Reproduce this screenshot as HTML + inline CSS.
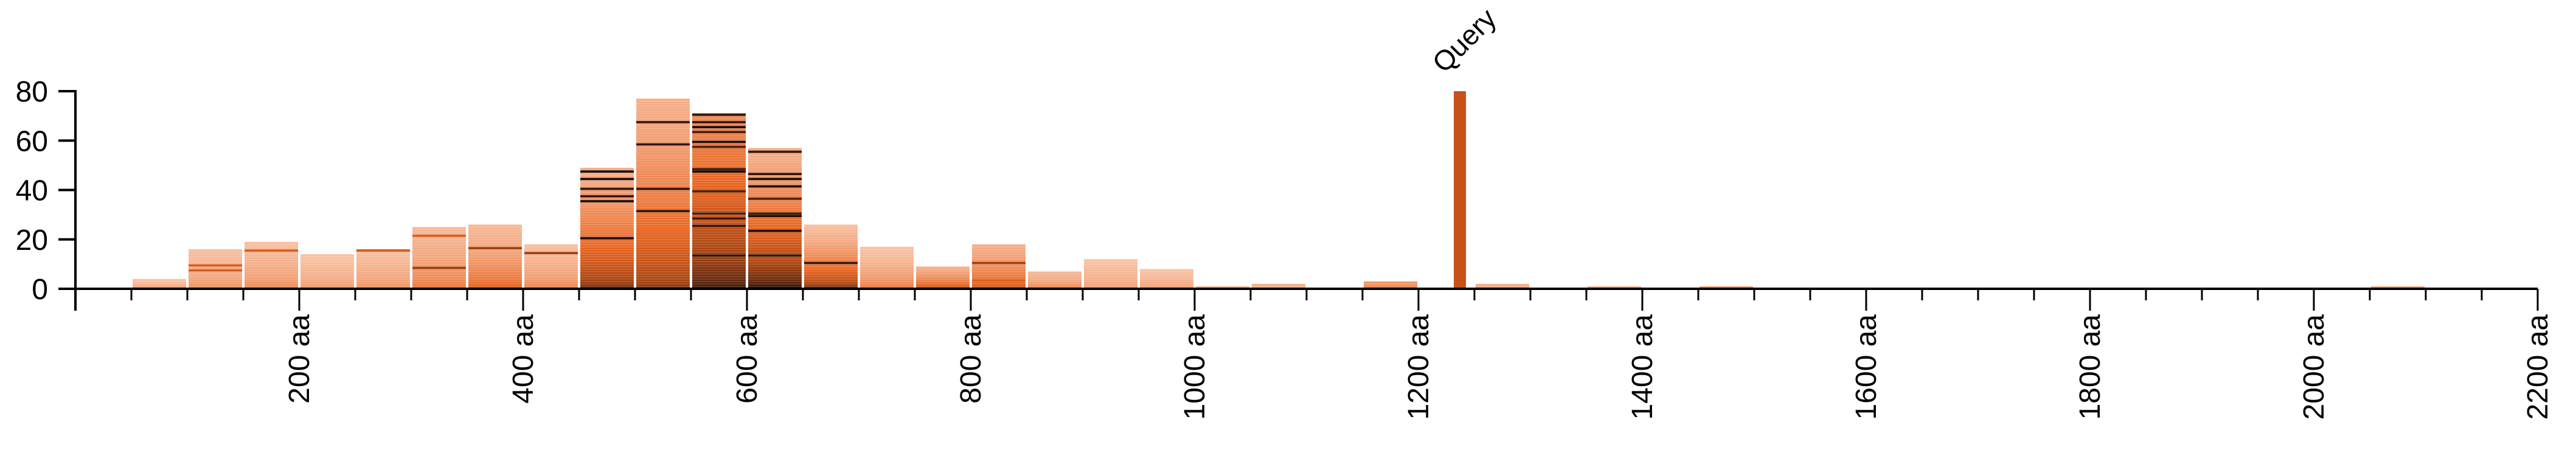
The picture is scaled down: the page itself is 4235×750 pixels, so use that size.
<!DOCTYPE html>
<html><head><meta charset="utf-8">
<style>
html,body{margin:0;padding:0;background:#fff;}
svg{display:block;}
text{font-family:"Liberation Sans",Arial,sans-serif;fill:#000;}
</style></head>
<body>
<svg id="chart" width="4235" height="750" viewBox="0 0 4235 750" xmlns="http://www.w3.org/2000/svg">
<g id="bars"></g>
<g id="query"></g>
<g id="xaxis"></g>
<g id="yaxis"></g>
</svg>
<script>
const binStarts = [50,100,150,200,250,300,350,400,450,500,550,600,650,700,750,800,850,900,950,1000,1050,1150,1250,1350,1450,2050];
const binCounts = [4,16,19,14,16,25,26,18,49,77,71,57,26,17,9,18,7,12,8,1,2,3,2,1,1,1];
const binBottomTone = [.3,.35,.38,.32,.35,.45,.55,.4,.82,.78,.92,.96,.82,.45,.62,.6,.4,.3,.3,.2,.2,.4,.25,.2,.3,.25];
const binTopTone = [.1,.12,.12,.1,.12,.15,.15,.12,.2,.2,.35,.2,.12,.1,.2,.2,.15,.1,.1,.2,.2,.3,.2,.2,.25,.22];
const binDarkStripes = [[],[7,9],[15],[],[15],[8,21],[16],[14],[47,44,40,37,35,20],[67,58,40,31],[70,67,65,63,59,57,48,47,39,30,28,25,13],[55,46,44,41,36,30,29,23,13],[10],[],[],[10,3],[],[],[],[],[],[],[],[],[],[]];
const queryLength = 1237;
const queryCount = 80;
const xTicks = [0,200,400,600,800,1000,1200,1400,1600,1800,2000,2200];
const yTicks = [0,20,40,60,80];

const NS = "http://www.w3.org/2000/svg";
const X0 = 124, XS = 1.84, Y0 = 475, YS = 325/80;
const xs = v => X0 + v*XS;
const ys = v => Y0 - v*YS;
const stops = [[0,[251,215,192]],[0.25,[243,165,124]],[0.5,[232,100,31]],[0.7,[168,66,15]],[0.85,[90,34,8]],[1,[20,8,2]]];
function tone(t){
  t=Math.max(0,Math.min(1,t));
  for(let i=1;i<stops.length;i++){
    if(t<=stops[i][0]){
      const a=stops[i-1],b=stops[i],f=(t-a[0])/(b[0]-a[0]);
      const c=a[1].map((v,k)=>Math.round(v+(b[1][k]-v)*f));
      return `rgb(${c[0]},${c[1]},${c[2]})`;
    }
  }
  return "rgb(20,8,2)";
}
function mk(tag, attrs, parent){
  const e=document.createElementNS(NS,tag);
  for(const k in attrs) e.setAttribute(k,attrs[k]);
  parent.appendChild(e); return e;
}
const gb=document.getElementById('bars');
binStarts.forEach((s,i)=>{
  const n=binCounts[i];
  const g=mk('g',{},gb);
  
  
  const x1=xs(s)+2, x2=xs(s+50)-2;
  const dark=binDarkStripes[i]||[];
  for(let u=0;u<n;u++){
    const f=n>1?Math.pow(u/(n-1),0.6):0;
    let t=binBottomTone[i]+(binTopTone[i]-binBottomTone[i])*f;
    if(dark.indexOf(u)>=0) t = binBottomTone[i]<0.7 ? (u%2?0.55:0.72) : 0.88+0.1*((u%3)/2);
    const r=mk('rect',{x:x1,y:ys(u+1),width:x2-x1,height:YS,fill:tone(t)},g);
    
    
    if(u<n-1){
      const l=mk('rect',{x:x1,y:ys(u+1),width:x2-x1,height:0.7,fill:'#fff','fill-opacity':0.3},g);
      
      
    }
  }
});
const gq=document.getElementById('query');
const qb=mk('rect',{x:xs(queryLength)-10,y:ys(queryCount),width:20,height:ys(0)-ys(queryCount),fill:'#c8511a'},gq);


const qt=mk('text',{x:xs(queryLength)-26,y:ys(queryCount)-28,'font-size':46,transform:`rotate(-45 ${xs(queryLength)-26} ${ys(queryCount)-28})`},gq);
qt.textContent='Query';



const gx=document.getElementById('xaxis');
const xl=mk('line',{x1:X0,x2:xs(2200),y1:Y0,y2:Y0,stroke:'#000','stroke-width':4},gx);


for(let v=0;v<=2200;v+=50){
  const major=v%200===0;
  const t=mk('line',{x1:xs(v),x2:xs(v),y1:Y0,y2:Y0+(major?36:19),stroke:'#000','stroke-width':3},gx);
  
  
}
xTicks.forEach(v=>{
  if(v===0) return;
  const x=xs(v)+16, y=Y0+42;
  const t=mk('text',{x:x,y:y,'font-size':48,'text-anchor':'end',transform:`rotate(-90 ${x} ${y})`},gx);
  t.textContent=v+' aa';
  
  
});
const gy=document.getElementById('yaxis');
const yl=mk('line',{x1:X0,x2:X0,y1:ys(80)-2,y2:Y0+36,stroke:'#000','stroke-width':4},gy);


yTicks.forEach(v=>{
  const t=mk('line',{x1:96,x2:X0,y1:ys(v),y2:ys(v),stroke:'#000','stroke-width':4},gy);
  
  
  const l=mk('text',{x:79,y:ys(v)+17,'font-size':48,'text-anchor':'end'},gy);
  l.textContent=v;
  
  
});
</script>
</body></html>
